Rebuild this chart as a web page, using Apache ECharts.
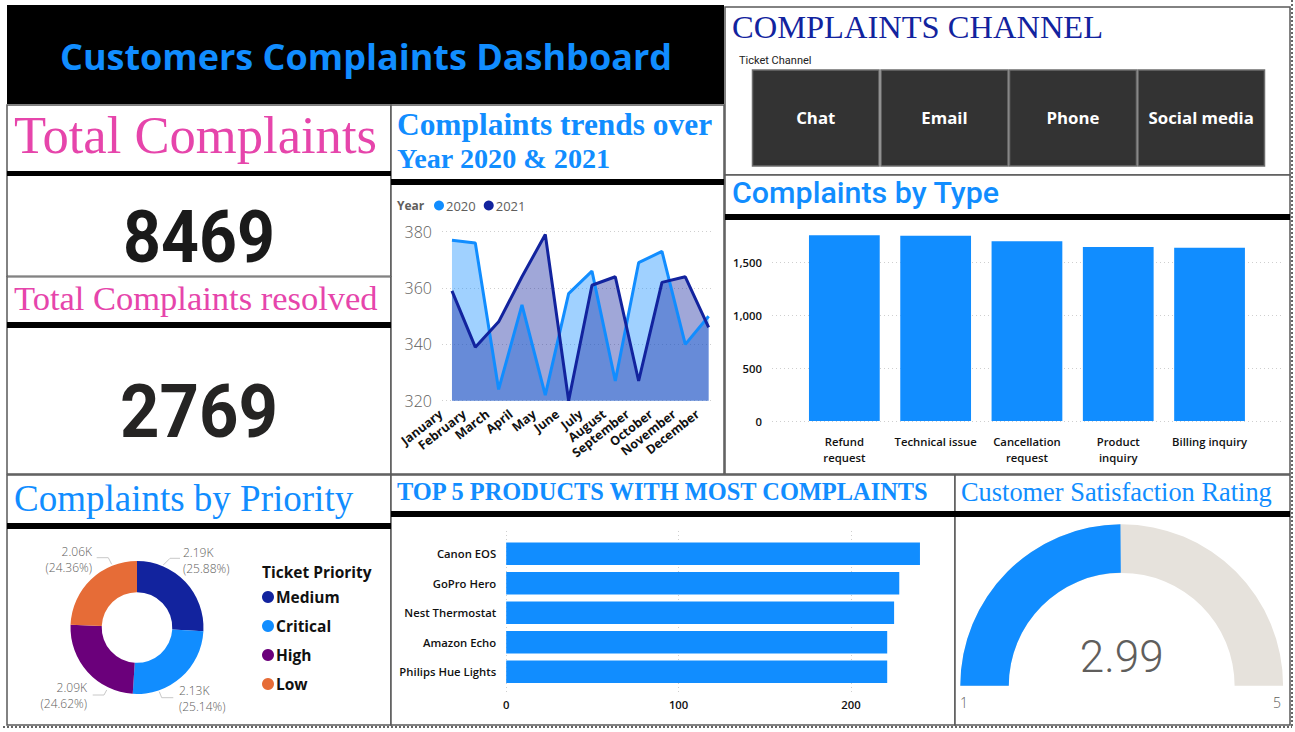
<!DOCTYPE html>
<html><head><meta charset="utf-8">
<style>html,body{margin:0;padding:0;background:#fff;overflow:hidden}#c{width:1295px;height:732px}</style>
<script src="https://cdn.jsdelivr.net/npm/echarts@6/dist/echarts.min.js"></script>
</head><body><div id="c"></div>
<script>
const months = ['January','February','March','April','May','June','July','August','September','October','November','December'];
const y2020 = [377,376,324,354,322,358,366,327,369,373,340,350];
const y2021 = [359,339,348,364,379,320,361,364,327,362,364,346];
const typeNames = ['Refund\nrequest','Technical issue','Cancellation\nrequest','Product\ninquiry','Billing inquiry'];
const typeValues = [1752,1747,1695,1641,1634];
const productNames = ['Canon EOS','GoPro Hero','Nest Thermostat','Amazon Echo','Philips Hue Lights'];
const productValues = [240,228,225,221,221];
const priorityNames = ['Medium','Critical','High','Low'];
const priorityValues = [2192,2129,2085,2063];
const priorityLabels = ['2.19K\n(25.88%)','2.13K\n(25.14%)','2.09K\n(24.62%)','2.06K\n(24.36%)'];
const channels = ['Chat','Email','Phone','Social media'];
const ratingValue = 2.99;
const ratingMin = 1, ratingMax = 5;
const totalComplaints = '8469', totalResolved = '2769';

const BLUE='#118DFF', NAVY='#12239E', PINK='#E645AB', GREY='#605E5C';
const SERIF='"Liberation Serif",serif', SANS='"Open Sans",sans-serif', DIN='Roboto,sans-serif';
const g=[];
function box(x,y,w,h,fill,stroke,lw){g.push({type:'rect',z:-2,shape:{x,y,width:w,height:h},style:{fill:fill||'#fff',stroke:stroke||'#5a5a5a',lineWidth:lw===undefined?1.5:lw}});}
function bar(x,y,w,h){g.push({type:'rect',z:-1,shape:{x,y,width:w,height:h},style:{fill:'#000'}});}
function txt(t,x,y,size,color,font,weight,align,sx){
  const el={type:'text',z:100,style:{text:t,x,y,font:(weight||'normal')+' '+size+'px '+font,fill:color,align:align||'left',verticalAlign:'middle'}};
  if(sx){el.scaleX=sx;el.originX=x;el.originY=y;}
  g.push(el);
}
function dots(x1,y1,x2,y2){g.push({type:'line',z:-1,shape:{x1,y1,x2,y2},style:{stroke:'#666',lineWidth:2,lineDash:[2,2]}});}
function leader(points){g.push({type:'polyline',z:5,shape:{points},style:{stroke:'#c8c8c8',lineWidth:1,fill:'none'}});}

dots(1292,0,1292,727); dots(3,727,1292,727);
box(7,5,717,99,'#000','#000',0);
box(7,105,384,369); box(391,105,333,369); box(725,7,565,168); box(725,175,565,299);
box(7,475,384,250); box(391,475,564,250); box(955,475,335,250);
box(7,276,384,1,'#fff','#5a5a5a',1);
bar(7,171,384,5); bar(7,322,384,6); bar(391,179,333,6); bar(725,214,565,6);
bar(7,523,384,6); bar(391,511,564,6); bar(955,511,335,6);

txt('Customers Complaints Dashboard',366,56,36,BLUE,SANS,'bold','center');
txt('Total Complaints',14,135,52.6,PINK,SERIF);
txt(totalComplaints,199,238,72,'#1a1a1a',DIN,'bold','center',0.92);
txt('Total Complaints resolved',14,298,34.5,PINK,SERIF);
txt(totalResolved,199,412,74,'#252423',DIN,'bold','center',0.93);
txt('Complaints trends over',397,124,31.4,BLUE,SERIF,'bold');
txt('Year 2020 & 2021',397,158,28.2,BLUE,SERIF,'bold');
txt('COMPLAINTS CHANNEL',732,27,32.5,NAVY,SERIF);
txt('Ticket Channel',739,60,11,'#222',DIN);
txt('Complaints by Type',732,192,30.4,BLUE,DIN,'500');
txt('Complaints by Priority',14,498,37,BLUE,SERIF);
txt('TOP 5 PRODUCTS WITH MOST COMPLAINTS',397,491,24.4,BLUE,SERIF,'bold');
txt('Customer Satisfaction Rating',961,492,26.4,BLUE,SERIF);
txt('Year',397,205,12,GREY,SANS,'bold');
txt('Ticket Priority',262,572,15.5,'#111',SANS,'bold');
txt(String(ratingMin),960,702,14,GREY,SANS,'300');
txt(String(ratingMax),1281,702,14,GREY,SANS,'300','right');
const bx=[752.5,881,1009.5,1138], bw=[126.5,127,127,126.5];
channels.forEach((c,i)=>{box(bx[i],70,bw[i],96,'#333','#6e6e6e',1.5);txt(c,bx[i]+bw[i]/2,117.5,16.8,'#fff',SANS,'bold','center');});
leader([[163.3,565],[170,558.3],[180,558.3]]);
leader([[159.3,691.7],[161.7,697.7],[173.3,697.7]]);
leader([[106.7,690],[104,695],[92.7,695]]);
leader([[111.7,564.3],[108.3,557.7],[96.7,557.7]]);

const dotted={show:true,lineStyle:{type:[1,3],color:'#cfcfcf',width:1}};
const hide={show:false};
const labelBold={color:'#111',fontFamily:SANS,fontWeight:600,fontSize:11.3};
const pieLabelPos=[{x:183,y:560,align:'left'},{x:179,y:698,align:'left'},{x:87,y:695,align:'right'},{x:92,y:559,align:'right'}];

const option={
 animation:false,
 graphic:{elements:g},
 legend:[
  {data:['2020','2021'],left:434,top:199,itemWidth:10,itemHeight:10,itemGap:8,icon:'circle',padding:0,selectedMode:false,textStyle:{color:GREY,fontSize:13,fontFamily:SANS,padding:[0,0,0,-3]}},
  {data:priorityNames,orient:'vertical',left:262,top:589,itemWidth:12,itemHeight:12,itemGap:13,icon:'circle',padding:0,selectedMode:false,textStyle:{color:'#111',fontSize:15.5,fontWeight:'bold',fontFamily:SANS,padding:[0,0,0,-3]}}
 ],
 grid:[
  {left:442,top:231.7,width:272,height:169},
  {left:440.3,top:231.7,width:280,height:169},
  {left:772,top:262,width:510,height:159},
  {left:798.7,top:230.2,width:456.5,height:190.8},
  {left:506.2,top:531,width:344.8,height:164},
  {left:506.2,top:539,width:431,height:147.5}
 ],
 xAxis:[
  {gridIndex:0,type:'value',show:false,min:0,max:1},
  {gridIndex:1,type:'category',data:months,boundaryGap:true,axisLine:hide,axisTick:hide,splitLine:hide,
   axisLabel:{interval:0,rotate:38,margin:3,padding:[0,14,0,0],color:'#111',fontWeight:'bold',fontSize:12.5,fontFamily:SANS}},
  {gridIndex:2,type:'value',show:false,min:0,max:1},
  {gridIndex:3,type:'category',data:typeNames,axisLine:hide,axisTick:hide,splitLine:hide,
   axisLabel:Object.assign({},labelBold,{interval:0,margin:12,lineHeight:16})},
  {gridIndex:4,type:'value',min:0,max:200,interval:100,axisLine:hide,axisTick:hide,splitLine:dotted,
   axisLabel:Object.assign({margin:4},labelBold)},
  {gridIndex:5,type:'value',show:false,min:0,max:250}
 ],
 yAxis:[
  {gridIndex:0,type:'value',min:320,max:380,interval:20,axisLine:hide,axisTick:hide,splitLine:dotted,
   axisLabel:{margin:10,color:GREY,fontSize:16,fontFamily:SANS,fontWeight:300}},
  {gridIndex:1,type:'value',show:false,min:320,max:380},
  {gridIndex:2,type:'value',min:0,max:1500,interval:500,axisLine:hide,axisTick:hide,splitLine:dotted,
   axisLabel:Object.assign({margin:10,formatter:v=>v.toLocaleString('en-US')},labelBold)},
  {gridIndex:3,type:'value',show:false,min:0,max:1800},
  {gridIndex:4,type:'category',show:false,data:['']},
  {gridIndex:5,type:'category',data:productNames,inverse:true,axisLine:hide,axisTick:hide,splitLine:hide,
   axisLabel:Object.assign({interval:0,margin:10},labelBold)}
 ],
 series:[
  {name:'2020',type:'line',xAxisIndex:1,yAxisIndex:1,data:y2020,symbol:'none',clip:false,itemStyle:{color:BLUE},
   lineStyle:{color:BLUE,width:3},areaStyle:{color:BLUE,opacity:0.4,origin:'start'}},
  {name:'2021',type:'line',xAxisIndex:1,yAxisIndex:1,data:y2021,symbol:'none',clip:false,itemStyle:{color:NAVY},
   lineStyle:{color:NAVY,width:3},areaStyle:{color:NAVY,opacity:0.4,origin:'start'}},
  {type:'bar',xAxisIndex:3,yAxisIndex:3,data:typeValues,barCategoryGap:'22.5%',itemStyle:{color:BLUE}},
  {type:'bar',xAxisIndex:5,yAxisIndex:5,data:productValues,barCategoryGap:'23%',itemStyle:{color:BLUE}},
  {type:'pie',center:[137,627.5],radius:[35.3,66.5],startAngle:90,clockwise:true,
   data:priorityNames.map((n,i)=>({name:n,value:priorityValues[i],itemStyle:{color:[NAVY,BLUE,'#6B007B','#E66C37'][i]},
     label:{formatter:priorityLabels[i]}})),
   label:{color:GREY,fontSize:12,lineHeight:16,fontFamily:SANS,fontWeight:300,overflow:'none',width:80},
   labelLayout:p=>pieLabelPos[p.dataIndex],
   labelLine:{show:false},emphasis:{disabled:true}},
  {type:'gauge',center:[1121.7,685.7],radius:161.4,startAngle:180,endAngle:0,min:ratingMin,max:ratingMax,
   data:[{value:ratingValue}],pointer:hide,axisTick:hide,splitLine:hide,axisLabel:hide,title:hide,anchor:hide,
   axisLine:{lineStyle:{width:48.5,color:[[1,'#E6E2DC']]}},
   progress:{show:true,width:48.5,itemStyle:{color:BLUE}},
   detail:{valueAnimation:false,formatter:v=>v.toFixed(2),offsetCenter:[0,-29],color:GREY,fontSize:44,fontWeight:300,fontFamily:'Roboto,sans-serif'}}
 ]
};
echarts.init(document.getElementById('c'),null,{renderer:'svg',width:1295,height:732}).setOption(option);
</script></body></html>
